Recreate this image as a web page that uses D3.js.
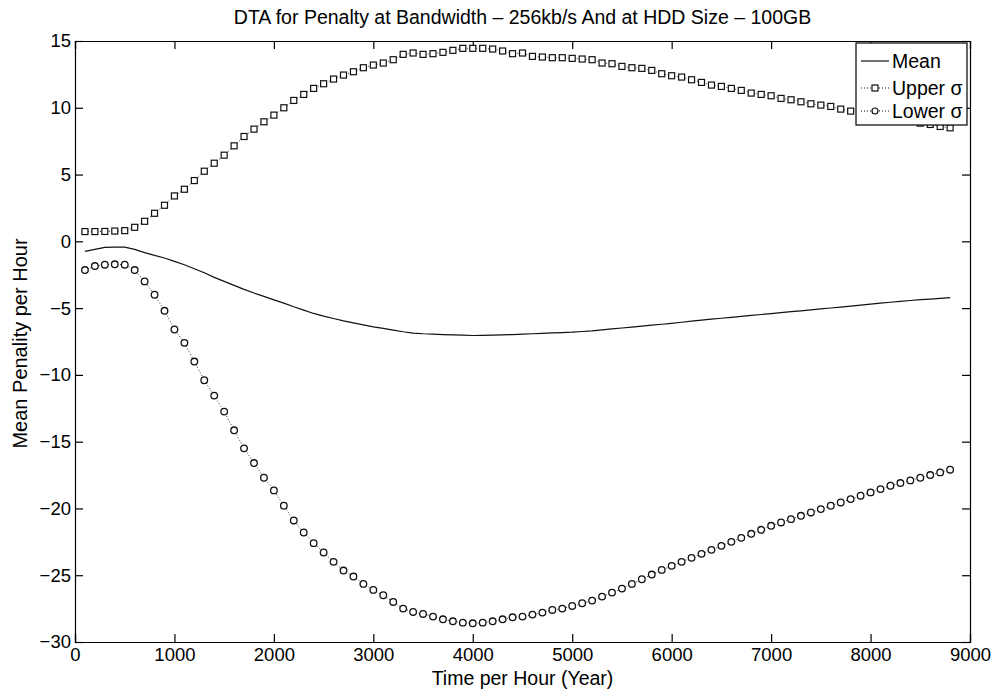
<!DOCTYPE html>
<html><head><meta charset="utf-8">
<script src="https://cdn.jsdelivr.net/npm/d3@7"></script>
<style>
body{margin:0;background:#fff;}
svg text{font-family:"Liberation Sans",Arial,Helvetica,sans-serif;fill:#000;}
</style></head>
<body><svg id="c" width="999" height="690"></svg>
<script>
const title = "DTA for Penalty at Bandwidth \u2013 256kb/s And at HDD Size \u2013 100GB";
const xLabel = "Time per Hour (Year)";
const yLabel = "Mean Penality per Hour";
const seriesNames = ["Mean", "Upper \u03c3", "Lower \u03c3"];
const xTicks = [0,1000,2000,3000,4000,5000,6000,7000,8000,9000];
const yTicks = [15,10,5,0,-5,-10,-15,-20,-25,-30];
const hours = [100,200,300,400,500,600,700,800,900,1000,1100,1200,1300,1400,1500,1600,1700,1800,1900,2000,
2100,2200,2300,2400,2500,2600,2700,2800,2900,3000,3100,3200,3300,3400,3500,3600,3700,3800,3900,4000,
4100,4200,4300,4400,4500,4600,4700,4800,4900,5000,5100,5200,5300,5400,5500,5600,5700,5800,5900,6000,
6100,6200,6300,6400,6500,6600,6700,6800,6900,7000,7100,7200,7300,7400,7500,7600,7700,7800,7900,8000,
8100,8200,8300,8400,8500,8600,8700,8800];
const meanVals = [-0.75,-0.6,-0.45,-0.44,-0.44,-0.6,-0.85,-1.05,-1.25,-1.5,-1.75,-2.05,-2.35,-2.7,-3.0,-3.3,-3.6,-3.87,-4.12,-4.38,
-4.63,-4.9,-5.15,-5.4,-5.6,-5.78,-5.95,-6.1,-6.25,-6.4,-6.52,-6.65,-6.77,-6.87,-6.92,-6.95,-6.98,-7.01,-7.03,-7.05,
-7.04,-7.02,-7.0,-6.98,-6.95,-6.92,-6.89,-6.86,-6.83,-6.8,-6.75,-6.7,-6.63,-6.56,-6.49,-6.42,-6.35,-6.28,-6.21,-6.14,
-6.06,-5.98,-5.9,-5.83,-5.76,-5.69,-5.62,-5.55,-5.48,-5.41,-5.34,-5.27,-5.2,-5.13,-5.06,-4.99,-4.92,-4.85,-4.78,-4.7,
-4.63,-4.56,-4.49,-4.43,-4.37,-4.32,-4.27,-4.22];
const upperVals = [0.73,0.73,0.74,0.77,0.8,1.05,1.5,2.1,2.7,3.4,3.9,4.55,5.25,5.85,6.45,7.15,7.85,8.4,8.95,9.45,
10.0,10.55,11.0,11.45,11.8,12.15,12.45,12.7,13.0,13.2,13.35,13.6,14.0,14.1,14.0,14.05,14.15,14.3,14.45,14.45,
14.45,14.4,14.25,14.05,14.1,13.85,13.8,13.75,13.75,13.7,13.65,13.6,13.35,13.3,13.1,13.0,12.95,12.8,12.55,12.4,
12.3,12.1,11.9,11.7,11.6,11.45,11.3,11.1,11.0,10.9,10.7,10.6,10.45,10.3,10.2,10.1,9.9,9.75,9.6,9.5,
9.4,9.3,9.15,9.0,8.85,8.75,8.6,8.5];
const lowerVals = [-2.15,-1.85,-1.75,-1.72,-1.75,-2.15,-3.0,-4.0,-5.2,-6.6,-7.6,-9.0,-10.4,-11.55,-12.75,-14.15,-15.5,-16.6,-17.7,-18.65,
-19.8,-20.9,-21.8,-22.6,-23.3,-24.0,-24.65,-25.1,-25.65,-26.1,-26.5,-27.0,-27.5,-27.75,-27.9,-28.1,-28.3,-28.45,-28.55,-28.6,
-28.55,-28.45,-28.3,-28.15,-28.1,-27.95,-27.8,-27.6,-27.5,-27.3,-27.1,-26.9,-26.6,-26.3,-26.0,-25.65,-25.3,-24.95,-24.6,-24.3,
-24.0,-23.7,-23.4,-23.1,-22.8,-22.5,-22.2,-21.9,-21.6,-21.3,-21.05,-20.8,-20.55,-20.3,-20.05,-19.8,-19.55,-19.3,-19.05,-18.8,
-18.55,-18.3,-18.1,-17.9,-17.7,-17.5,-17.3,-17.1];

const svg = d3.select("#c");
const L = 75, R = 970, T = 41, B = 642;
const x = d3.scaleLinear().domain([0, 9000]).range([L, R]);
const y = d3.scaleLinear().domain([-30, 15]).range([B, T]);
const fsTick = 18.5, fsLab = 19.5;

// axes with inward ticks
const tk = 8;
const gB = svg.append("g").attr("transform", `translate(0,${B})`)
  .call(d3.axisBottom(x).tickValues(xTicks).tickSize(-tk).tickPadding(5).tickFormat(d3.format("d")));
const gT = svg.append("g").attr("transform", `translate(0,${T})`)
  .call(d3.axisTop(x).tickValues(xTicks).tickSize(-tk).tickFormat(""));
const gL = svg.append("g").attr("transform", `translate(${L},0)`)
  .call(d3.axisLeft(y).tickValues(yTicks).tickSize(-tk).tickPadding(4).tickFormat(d => d < 0 ? "\u2212" + Math.abs(d) : d));
const gR = svg.append("g").attr("transform", `translate(${R},0)`)
  .call(d3.axisRight(y).tickValues(yTicks).tickSize(-tk).tickFormat(""));
[gB, gT, gL, gR].forEach(g => {
  g.select(".domain").attr("stroke", "#000").attr("stroke-width", 1.2);
  g.selectAll(".tick line").attr("stroke", "#000").attr("stroke-width", 1.2);
  g.selectAll("text").attr("font-size", fsTick).attr("font-family", "Liberation Sans, Arial, sans-serif").attr("fill", "#000");
});
gB.selectAll(".tick text").attr("dy", "0.75em");

const plot = svg.append("g");
const lineGen = vals => d3.line().x((d, i) => x(hours[i])).y(d => y(d))(vals);

// Mean
plot.append("path").attr("d", lineGen(meanVals)).attr("fill", "none")
  .attr("stroke", "#111").attr("stroke-width", 1.2);
// Upper
plot.append("path").attr("d", lineGen(upperVals)).attr("fill", "none")
  .attr("stroke", "#333").attr("stroke-width", 1).attr("stroke-dasharray", "1,2");
plot.selectAll("rect.up").data(upperVals).enter().append("rect").attr("class", "up")
  .attr("x", (d, i) => x(hours[i]) - 3).attr("y", d => y(d) - 3)
  .attr("width", 6).attr("height", 6).attr("fill", "#fff").attr("stroke", "#111").attr("stroke-width", 1.2);
// Lower
plot.append("path").attr("d", lineGen(lowerVals)).attr("fill", "none")
  .attr("stroke", "#333").attr("stroke-width", 1).attr("stroke-dasharray", "1,2");
plot.selectAll("circle.lo").data(lowerVals).enter().append("circle").attr("class", "lo")
  .attr("cx", (d, i) => x(hours[i])).attr("cy", d => y(d)).attr("r", 3.3)
  .attr("fill", "#fff").attr("stroke", "#111").attr("stroke-width", 1.3);

// Legend
const lg = svg.append("g");
lg.append("rect").attr("x", 856).attr("y", 43).attr("width", 111).attr("height", 82)
  .attr("fill", "#fff").attr("stroke", "#000").attr("stroke-width", 1.2);
const ly = [61, 88, 111];
seriesNames.forEach((n, i) => {
  const yy = ly[i];
  lg.append("line").attr("x1", 861).attr("x2", 889).attr("y1", yy).attr("y2", yy)
    .attr("stroke", "#111").attr("stroke-width", i === 0 ? 1.2 : 1)
    .attr("stroke-dasharray", i === 0 ? null : "1,2");
  if (i === 1) lg.append("rect").attr("x", 872).attr("y", yy - 3).attr("width", 6).attr("height", 6)
    .attr("fill", "#fff").attr("stroke", "#111").attr("stroke-width", 1.2);
  if (i === 2) lg.append("circle").attr("cx", 875).attr("cy", yy).attr("r", 3)
    .attr("fill", "#fff").attr("stroke", "#111").attr("stroke-width", 1.2);
  lg.append("text").attr("x", 892).attr("y", yy).attr("dy", "0.35em").attr("font-size", fsLab).text(n);
});

// Titles
svg.append("text").attr("x", (L + R) / 2).attr("y", 24).attr("text-anchor", "middle")
  .attr("font-size", fsLab).text(title);
svg.append("text").attr("x", (L + R) / 2).attr("y", 685).attr("text-anchor", "middle")
  .attr("font-size", fsLab).text(xLabel);
svg.append("text").attr("transform", `translate(27,${(T + B) / 2 + 2}) rotate(-90)`)
  .attr("text-anchor", "middle").attr("font-size", fsLab + 0.5).text(yLabel);
</script></body></html>
